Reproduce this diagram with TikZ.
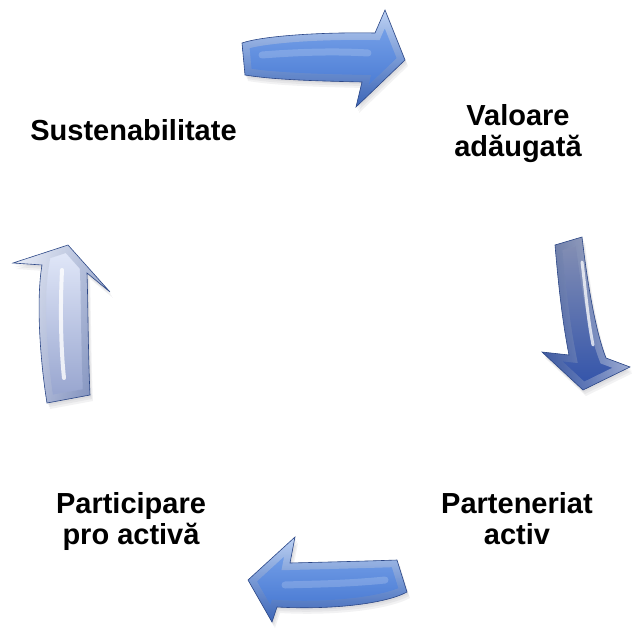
\documentclass[tikz,border=0pt]{standalone}
\usepackage{fontspec}
\setmainfont{Liberation Sans}
\usetikzlibrary{fadings}
\definecolor{blueA}{RGB}{128,170,238}
\definecolor{blueB}{RGB}{62,112,205}
\definecolor{edgeA}{RGB}{45,72,135}
\definecolor{slateA}{RGB}{135,145,180}
\definecolor{slateB}{RGB}{48,82,170}
\definecolor{paleA}{RGB}{228,234,250}
\definecolor{paleB}{RGB}{148,162,205}
\definecolor{shadowc}{RGB}{80,80,95}
\tikzset{
  lab/.style={font=\fontsize{29}{31}\selectfont\bfseries, align=center, inner sep=0pt, text=black},
  outline/.style={draw=edgeA, line width=0.6pt},
  bevlight/.style={draw=white, line width=14pt, opacity=0.55},
  bevdark/.style={draw=edgeA, line width=14pt, opacity=0.35},
  streak/.style={draw=white, line cap=round},
}
\newcommand\fancyarrow[6]{%
  \foreach \s in {2,4,6}{\fill[shadowc, opacity=0.07, xshift=0.5*\s pt, yshift=-\s pt] #1;}
  \shade[top color=#2, bottom color=#3, shading angle=#4] #1;
  \begin{scope}
    \clip #1;
    \draw[bevlight, path fading=#5] #1;
    \draw[bevdark, path fading=#6] #1;
  \end{scope}
  \draw[outline] #1;
}
\def\pathTop{(242,43) .. controls (262,36) and (320,32) .. (375,33) -- (385,10) -- (405,60) -- (356,107) -- (362,82) .. controls (320,81) and (275,80) .. (245,75) -- cycle}
\def\pathRight{(555,245) -- (582,237) .. controls (587,280) and (595,330) .. (606,358) -- (630,367) -- (583,390) -- (542,352) -- (569,355) .. controls (562,320) and (558,280) .. (555,245) -- cycle}
\def\pathBottom{(397,560) -- (407,592) .. controls (385,604) and (330,610) .. (277,607) -- (272,622) -- (248,580) -- (295,537) -- (290,563) .. controls (330,562) and (370,561) .. (397,560) -- cycle}
\def\pathLeft{(47,403) -- (90,395) .. controls (88,350) and (88,300) .. (87,273) -- (110,292) -- (68,245) -- (13,263) -- (42,265) .. controls (36,300) and (40,360) .. (47,403) -- cycle}
\begin{document}
\begin{tikzpicture}[x=1pt,y=-1pt]
  \useasboundingbox (0,0) rectangle (632,633);
  \fill[white] (0,0) rectangle (632,633);
  % arrows
  \fancyarrow{\pathTop}{blueA}{blueB}{0}{south}{north}
  \draw[streak, line width=7pt, opacity=0.18] (262,55) .. controls (300,52) and (335,51) .. (368,53);
  \fancyarrow{\pathRight}{slateA}{slateB}{0}{west}{east}
  \draw[streak, line width=3pt, opacity=0.75] (582,262) .. controls (586,295) and (588,320) .. (593,345);
  \fancyarrow{\pathBottom}{blueA}{blueB}{0}{south}{north}
  \draw[streak, line width=7pt, opacity=0.18] (285,585) .. controls (315,584) and (345,584) .. (385,580);
  \fancyarrow{\pathLeft}{paleA}{paleB}{0}{east}{west}
  \draw[streak, line width=4pt, opacity=0.8] (62,270) .. controls (60,310) and (61,350) .. (64,378);
  % labels
  \node[lab, anchor=base] (sust) at (133.5,140) {Sustenabilitate};
  \node[lab, anchor=north] (val) at (518,104.2) {Valoare\\adăugată};
  \node[lab, anchor=north] (part) at (131,492.2) {Participare\\pro activă};
  \node[lab, anchor=north] (parten) at (517,492.2) {Parteneriat\\activ};
\end{tikzpicture}
\end{document}
